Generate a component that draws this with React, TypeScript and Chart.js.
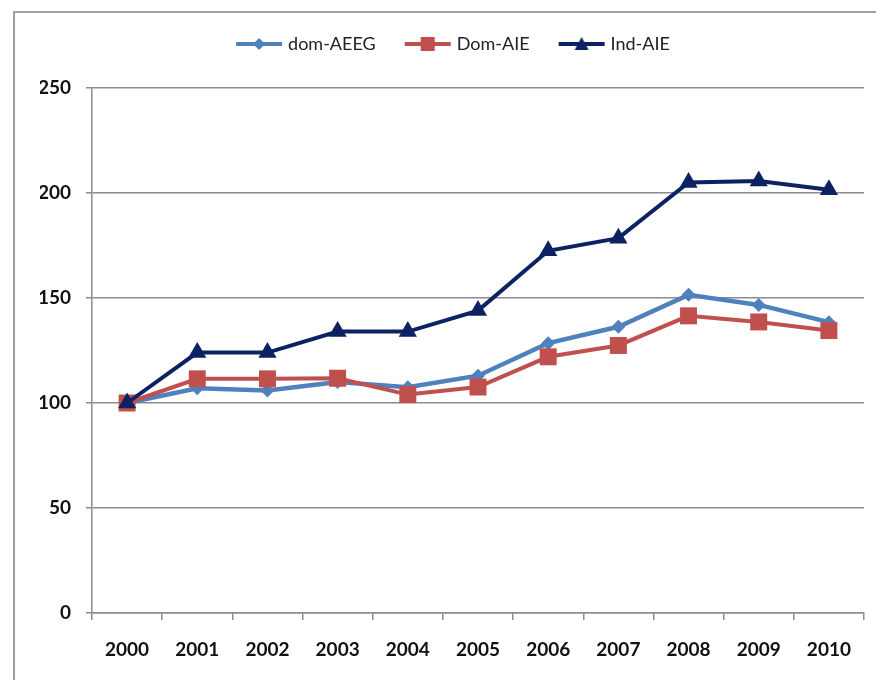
import React, { useEffect, useRef } from "react";
import { Chart, registerables } from "chart.js";

Chart.register(...registerables);

const categories = ["2000", "2001", "2002", "2003", "2004", "2005", "2006", "2007", "2008", "2009", "2010"];
const domAEEG = [100, 107, 106, 110, 107.5, 113, 128.5, 136.3, 151.5, 146.7, 138.5];
const domAIE = [100, 111.5, 111.5, 111.8, 104, 107.6, 122, 127.4, 141.5, 138.6, 134.5];
const indAIE = [100, 124, 124, 134, 134, 144, 172.5, 178.5, 205, 205.7, 201.5];
const seriesNames = ["dom-AEEG", "Dom-AIE", "Ind-AIE"];
const yTicks = [0, 50, 100, 150, 200, 250];

const BLUE = "#4F81BD";
const RED = "#C0504D";
const NAVY = "#0C2262";

function makeIcon(color: string, kind: string) {
  const c = document.createElement("canvas");
  c.width = 48;
  c.height = 18;
  const ctx = c.getContext("2d")!;
  ctx.strokeStyle = color;
  ctx.fillStyle = color;
  ctx.lineWidth = 4;
  ctx.beginPath();
  ctx.moveTo(1, 9);
  ctx.lineTo(47, 9);
  ctx.stroke();
  ctx.beginPath();
  if (kind === "diamond") {
    ctx.moveTo(24, 3);
    ctx.lineTo(30, 9);
    ctx.lineTo(24, 15);
    ctx.lineTo(18, 9);
    ctx.closePath();
  } else if (kind === "square") {
    ctx.rect(17, 2, 14, 14);
  } else {
    ctx.moveTo(24, 2);
    ctx.lineTo(31, 15);
    ctx.lineTo(17, 15);
    ctx.closePath();
  }
  ctx.fill();
  return c;
}

export default function App() {
  const ref = useRef<HTMLCanvasElement | null>(null);

  useEffect(() => {
    if (!ref.current) return;
    const icons = [makeIcon(BLUE, "diamond"), makeIcon(RED, "square"), makeIcon(NAVY, "triangle")];
    const colors = [BLUE, RED, NAVY];
    const legendFix = {
      id: "legendFix",
      beforeInit(chart: any) {
        const lg = chart.legend;
        if (lg && !lg.__patched) {
          const orig = lg.fit;
          lg.fit = function () {
            orig.call(this);
            this.height = 85;
          };
          lg.__patched = true;
        }
      },
    };
    const chart = new Chart(ref.current, {
      type: "line",
      data: {
        labels: categories,
        datasets: [
          {
            label: seriesNames[0],
            data: domAEEG,
            borderColor: BLUE,
            backgroundColor: BLUE,
            borderWidth: 4.5,
            pointStyle: "rectRot",
            pointRadius: 7,
            pointBorderWidth: 0,
            tension: 0,
            order: 3,
          },
          {
            label: seriesNames[1],
            data: domAIE,
            borderColor: RED,
            backgroundColor: RED,
            borderWidth: 4,
            pointStyle: "rect",
            pointRadius: 12,
            pointBorderWidth: 0,
            tension: 0,
            order: 2,
          },
          {
            label: seriesNames[2],
            data: indAIE,
            borderColor: NAVY,
            backgroundColor: NAVY,
            borderWidth: 4,
            pointStyle: "triangle",
            pointRadius: 10.5,
            pointBorderWidth: 0,
            tension: 0,
            order: 1,
          },
        ],
      },
      options: {
        animation: false,
        responsive: false,
        maintainAspectRatio: false,
        layout: { padding: { top: 3, right: 7, left: 40, bottom: 0 } },
        plugins: {
          tooltip: { enabled: false },
          legend: {
            position: "top",
            align: "center",
            labels: {
              usePointStyle: true,
              pointStyleWidth: 40,
              boxHeight: 18,
              padding: 32,
              color: "#222",
              font: { family: "Lato", size: 18 },
              sort: (a: any, b: any) => a.datasetIndex - b.datasetIndex,
              generateLabels: (ch: any) =>
                ch.data.datasets.map((ds: any, i: number) => ({
                  text: ds.label,
                  fillStyle: colors[i],
                  strokeStyle: colors[i],
                  lineWidth: 0,
                  pointStyle: icons[i],
                  hidden: false,
                  datasetIndex: i,
                  fontColor: "#222",
                })),
            },
          },
        },
        scales: {
          x: {
            offset: true,
            grid: {
              offset: true,
              drawOnChartArea: false,
              drawTicks: true,
              tickLength: 7,
              color: "#8c8c8c",
              lineWidth: 1.5,
            },
            border: { color: "#8c8c8c", width: 1.5 },
            ticks: {
              padding: 18,
              color: "#111",
              font: { family: "Lato", size: 19, weight: "bold" },
              maxRotation: 0,
              autoSkip: false,
            },
            afterFit: (s: any) => {
              s.height = 67;
            },
          },
          y: {
            min: 0,
            max: 250,
            afterBuildTicks: (s: any) => {
              s.ticks = yTicks.map((v) => ({ value: v }));
            },
            grid: {
              color: "#8c8c8c",
              lineWidth: 1.5,
              tickLength: 6,
            },
            border: { color: "#8c8c8c", width: 1.5 },
            ticks: {
              padding: 15,
              color: "#111",
              font: { family: "Lato", size: 19, weight: "bold" },
            },
            afterFit: (s: any) => {
              s.width = 52;
            },
          },
        },
      },
      plugins: [legendFix],
    } as any);
    return () => chart.destroy();
  }, []);

  return (
    <div style={{ position: "fixed", left: 0, top: 0, width: 876, height: 680, background: "#fff", overflow: "hidden" }}>
      <div
        style={{
          position: "absolute",
          left: 13,
          top: 11,
          width: 900,
          height: 700,
          borderLeft: "2px solid #a0a0a0",
          borderTop: "2px solid #a0a0a0",
        }}
      />
      <canvas ref={ref} width={876} height={680} style={{ position: "absolute", left: 0, top: 0, width: 876, height: 680 }} />
    </div>
  );
}
